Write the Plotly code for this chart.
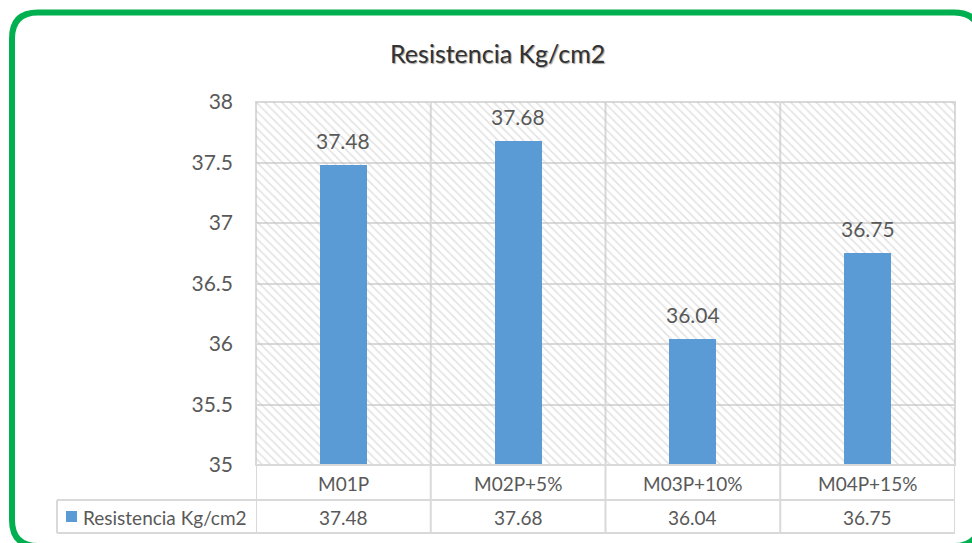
import plotly.graph_objects as go

# Data
categories = ["M01P", "M02P+5%", "M03P+10%", "M04P+15%"]
resistencia = [37.48, 37.68, 36.04, 36.75]
series_name = "Resistencia Kg/cm2"
y_ticks = [35, 35.5, 36, 36.5, 37, 37.5, 38]

W, H = 972, 543
BAR_BLUE = "#5B9BD5"
GRID = "#d9d9d9"
TXT = "#595959"
FONT = "Lato"

y_lo, y_hi = y_ticks[0], y_ticks[-1]


def px(x):
    return x / W


def py(y):
    return 1 - y / H


fig = go.Figure()

# Hatched plot-area background (one full-width block per category)
fig.add_trace(go.Bar(
    x=categories,
    y=[y_hi - y_lo] * len(categories),
    base=[y_lo] * len(categories),
    width=1.0,
    marker=dict(
        color="rgba(0,0,0,0)",
        line=dict(width=0),
        pattern=dict(shape="\\", fgcolor="#c4c4c4", size=6, solidity=0.25,
                     fillmode="overlay"),
    ),
    hoverinfo="skip",
    showlegend=False,
))

# Data bars
fig.add_trace(go.Bar(
    x=categories,
    y=[v - y_lo for v in resistencia],
    base=[y_lo] * len(categories),
    width=0.27,
    marker=dict(color=BAR_BLUE, line=dict(width=0)),
    name=series_name,
    showlegend=False,
))

annotations = []
# Value labels above bars
for c, v in zip(categories, resistencia):
    annotations.append(dict(
        x=c, y=v, xref="x", yref="y", text=f"{v:.2f}", showarrow=False,
        yanchor="bottom", yshift=10, font=dict(family=FONT, size=21, color=TXT),
    ))

# Data table: category row and value row
for c, v in zip(categories, resistencia):
    annotations.append(dict(
        x=c, y=py(483), xref="x", yref="paper", text=c, showarrow=False,
        yanchor="middle", font=dict(family=FONT, size=19, color=TXT),
    ))
    annotations.append(dict(
        x=c, y=py(517), xref="x", yref="paper", text=f"{v:.2f}", showarrow=False,
        yanchor="middle", font=dict(family=FONT, size=19, color=TXT),
    ))

# Legend key text in the table
annotations.append(dict(
    x=px(81), y=py(517), xref="paper", yref="paper", text=series_name,
    showarrow=False, xanchor="left", yanchor="middle",
    font=dict(family=FONT, size=19, color=TXT),
))

# Title
annotations.append(dict(
    x=px(497), y=py(53), xref="paper", yref="paper", text="Resistencia Kg/cm2",
    showarrow=False, xanchor="center", yanchor="middle",
    font=dict(family=FONT, size=25, color="#333333",
              shadow="1px 1px 1px #a0a0a0"),
))

shapes = []
line_style = dict(color=GRID, width=2)

# Plot-area border
shapes.append(dict(type="rect", xref="x domain", yref="y domain",
                   x0=0, x1=1, y0=0, y1=1, line=line_style, layer="below"))

# Category separators through plot area and table
for k in range(len(categories) + 1):
    shapes.append(dict(type="line", xref="x", yref="paper",
                       x0=k - 0.5, x1=k - 0.5, y0=py(533), y1=py(102),
                       line=line_style, layer="below"))

# Table horizontal rules
for yy, x_start in [(465, 256), (500, 57), (533, 57)]:
    shapes.append(dict(type="line", xref="paper", yref="paper",
                       x0=px(x_start), x1=px(955), y0=py(yy), y1=py(yy),
                       line=line_style))
# Legend cell left edge
shapes.append(dict(type="line", xref="paper", yref="paper",
                   x0=px(57), x1=px(57), y0=py(500), y1=py(533), line=line_style))
# Legend key square
shapes.append(dict(type="rect", xref="paper", yref="paper",
                   x0=px(66), x1=px(77), y0=py(522), y1=py(511),
                   fillcolor=BAR_BLUE, line=dict(width=0)))

# Green rounded frame
L, T, R, B, r = 12, 12.5, 980, 546, 26
path = (
    f"M {px(L)},{py(T + r)} "
    f"Q {px(L)},{py(T)} {px(L + r)},{py(T)} "
    f"L {px(R - r)},{py(T)} "
    f"Q {px(R)},{py(T)} {px(R)},{py(T + r)} "
    f"L {px(R)},{py(B - r)} "
    f"Q {px(R)},{py(B)} {px(R - r)},{py(B)} "
    f"L {px(L + r)},{py(B)} "
    f"Q {px(L)},{py(B)} {px(L)},{py(B - r)} Z"
)
shapes.append(dict(type="path", xref="paper", yref="paper", path=path,
                   line=dict(color="#00B050", width=6)))

fig.update_layout(
    width=W, height=H,
    margin=dict(l=0, r=0, t=0, b=0, autoexpand=False),
    paper_bgcolor="white",
    plot_bgcolor="white",
    barmode="overlay",
    bargap=0,
    showlegend=False,
    annotations=annotations,
    shapes=shapes,
    xaxis=dict(
        domain=[px(256), px(955)],
        type="category",
        range=[-0.5, len(categories) - 0.5],
        showticklabels=False, automargin=False,
        showgrid=False, zeroline=False, showline=False, ticks="",
        fixedrange=True,
    ),
    yaxis=dict(
        domain=[py(465), py(102)],
        range=[y_lo, y_hi],
        tickvals=y_ticks,
        ticktext=[f"{t:g}" for t in y_ticks],
        showgrid=True, gridcolor=GRID, gridwidth=2,
        zeroline=False, showline=False, ticks="", automargin=False,
        ticklabelstandoff=22,
        tickfont=dict(family=FONT, size=21, color=TXT),
        fixedrange=True,
    ),
)

fig.write_html("out.html")
